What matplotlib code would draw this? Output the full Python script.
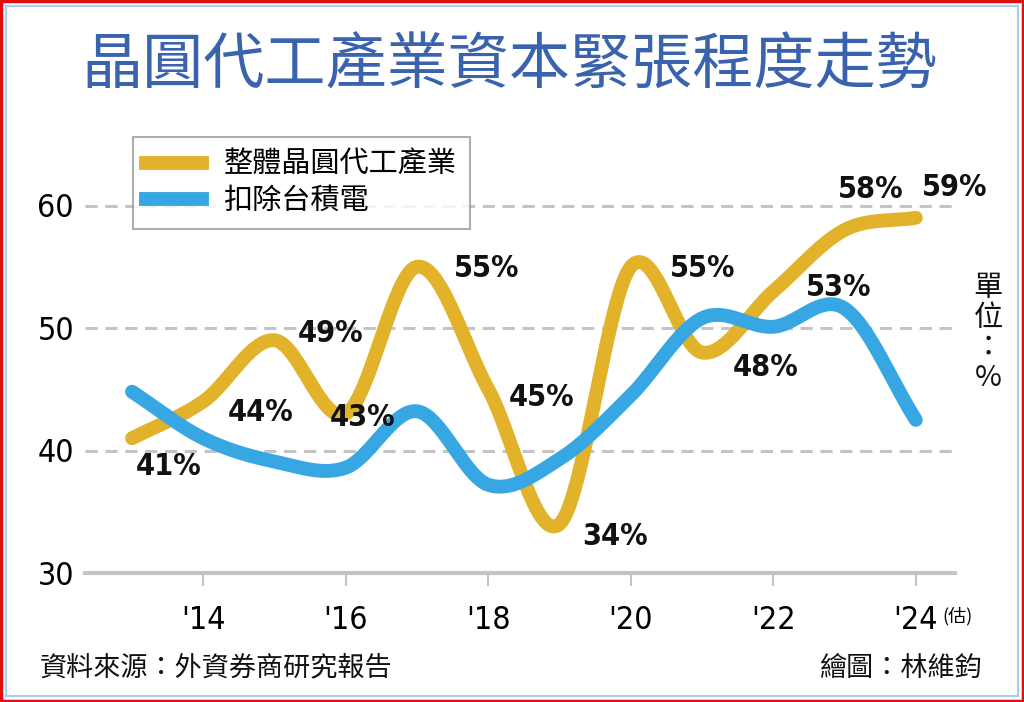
import numpy as np
import matplotlib
matplotlib.use("Agg")
import matplotlib.pyplot as plt
from matplotlib.patches import Rectangle
from matplotlib.lines import Line2D

plt.rcParams['font.family'] = ['Noto Sans CJK TC', 'DejaVu Sans']

# data
years = [2013, 2014, 2015, 2016, 2017, 2018, 2019, 2020, 2021, 2022, 2023, 2024]
foundry_all = [41, 44, 49, 43, 55, 45, 34, 55, 48, 53, 58, 59]
foundry_ex_tsmc = [44.8, 41.0, 39.1, 38.6, 43.2, 37.2, 39.3, 44.5, 50.8, 50.1, 51.6, 42.5]
value_labels = ['41%', '44%', '49%', '43%', '55%', '45%', '34%', '55%', '48%', '53%', '58%', '59%']
tick_years = [2014, 2016, 2018, 2020, 2022, 2024]
tick_labels = ["'14", "'16", "'18", "'20", "'22", "'24"]
series_names = ['整體晶圓代工產業', '扣除台積電']

# label offsets in points (dx, dy)
label_offsets = [(26, -20), (41, -8), (40, 5), (12, -3), (50, -1), (38, -6),
                 (40, -9), (52, -1), (46, -11), (47, 3), (19, 29), (28, 22)]

GOLD = '#E2B22A'
BLUE = '#37A7E4'


def catmull(x, y, n=40):
    x = np.asarray(x, float)
    y = np.asarray(y, float)
    px = np.concatenate([[2 * x[0] - x[1]], x, [2 * x[-1] - x[-2]]])
    py = np.concatenate([[2 * y[0] - y[1]], y, [2 * y[-1] - y[-2]]])
    xs, ys = [], []
    t = np.linspace(0, 1, n, endpoint=False)
    for i in range(1, len(px) - 2):
        for p, out in ((px, xs), (py, ys)):
            p0, p1, p2, p3 = p[i - 1], p[i], p[i + 1], p[i + 2]
            out.append(0.5 * ((2 * p1) + (-p0 + p2) * t
                              + (2 * p0 - 5 * p1 + 4 * p2 - p3) * t ** 2
                              + (-p0 + 3 * p1 - 3 * p2 + p3) * t ** 3))
    xs.append([x[-1]])
    ys.append([y[-1]])
    return np.concatenate(xs), np.concatenate(ys)


fig = plt.figure(figsize=(10.24, 7.02), dpi=100)
ax = fig.add_axes([85 / 1024, 1 - 573 / 702, 870 / 1024, (573 - 132) / 702])
ax.set_xlim(2012.34, 2024.55)
ax.set_ylim(30, 66)

for v in [40, 50, 60]:
    ax.axhline(v, color='#c4c4c4', lw=2.2, ls=(0, (4, 2.5)), zorder=1)

gx, gy = catmull(years, foundry_all)
bx, by = catmull(years, foundry_ex_tsmc)
ax.plot(gx, gy, color=GOLD, lw=10, solid_capstyle='round', zorder=3)
ax.plot(bx, by, color=BLUE, lw=10, solid_capstyle='round', zorder=4)

for x, y, s, off in zip(years, foundry_all, value_labels, label_offsets):
    ax.annotate(s, (x, y), xytext=off, textcoords='offset points',
                ha='center', va='center', fontsize=22, fontweight='bold',
                family=['DejaVu Sans'], fontstretch='condensed', color='#111111', zorder=6)

for s in ['top', 'right', 'left']:
    ax.spines[s].set_visible(False)
ax.spines['bottom'].set_color('#c4c4c4')
ax.spines['bottom'].set_linewidth(3)

ax.set_xticks(tick_years)
ax.set_xticklabels(tick_labels, family=['DejaVu Sans'], fontstretch='condensed', fontsize=23)
ax.tick_params(axis='x', length=9, width=1.5, color='#c4c4c4', pad=14)
ax.set_yticks([30, 40, 50, 60])
ax.set_yticklabels(['30', '40', '50', '60'], family=['DejaVu Sans'], fontstretch='condensed',
                   fontsize=23)
ax.tick_params(axis='y', length=0, pad=8)
ax.annotate('(估)', (2024, 30), xytext=(30, -31), textcoords='offset points',
            ha='center', va='center', fontsize=13, annotation_clip=False)

handles = [Line2D([], [], color=GOLD, lw=10), Line2D([], [], color=BLUE, lw=10)]
leg = ax.legend(handles, series_names, loc='upper left', bbox_to_anchor=(48 / 870, 1 - 5 / 441),
                prop={'size': 21, 'weight': 'medium'}, frameon=True, fancybox=False,
                handlelength=1.9, handletextpad=0.75, borderpad=0.45, labelspacing=0.2,
                borderaxespad=0)
leg.get_frame().set_edgecolor('#999999')
leg.get_frame().set_linewidth(1.5)

fig.text(509 / 1024, 1 - 66 / 702, '晶圓代工產業資本緊張程度走勢', ha='center', va='center',
         fontsize=44, fontweight='medium', color='#3A63AE')
fig.text(988 / 1024, 1 - 333 / 702, '單\n位\n：\n%', ha='center', va='center',
         fontsize=21, linespacing=1.0, color='#111111')
fig.text(40 / 1024, 1 - 668 / 702, '資料來源：外資券商研究報告', ha='left', va='center',
         fontsize=19.5, color='#111111')
fig.text(982 / 1024, 1 - 668 / 702, '繪圖：林維鈞', ha='right', va='center',
         fontsize=19.5, color='#111111')

fig.patches.append(Rectangle((6 / 1024, 6 / 702), 1 - 12 / 1024, 1 - 12 / 702,
                             transform=fig.transFigure, fill=False, ec='#a9cdea', lw=1.5))
fig.patches.append(Rectangle((0.001, 0.002), 0.998, 0.996, transform=fig.transFigure,
                             fill=False, ec='#e01010', lw=2.5))

fig.savefig('out.png', dpi=100)
